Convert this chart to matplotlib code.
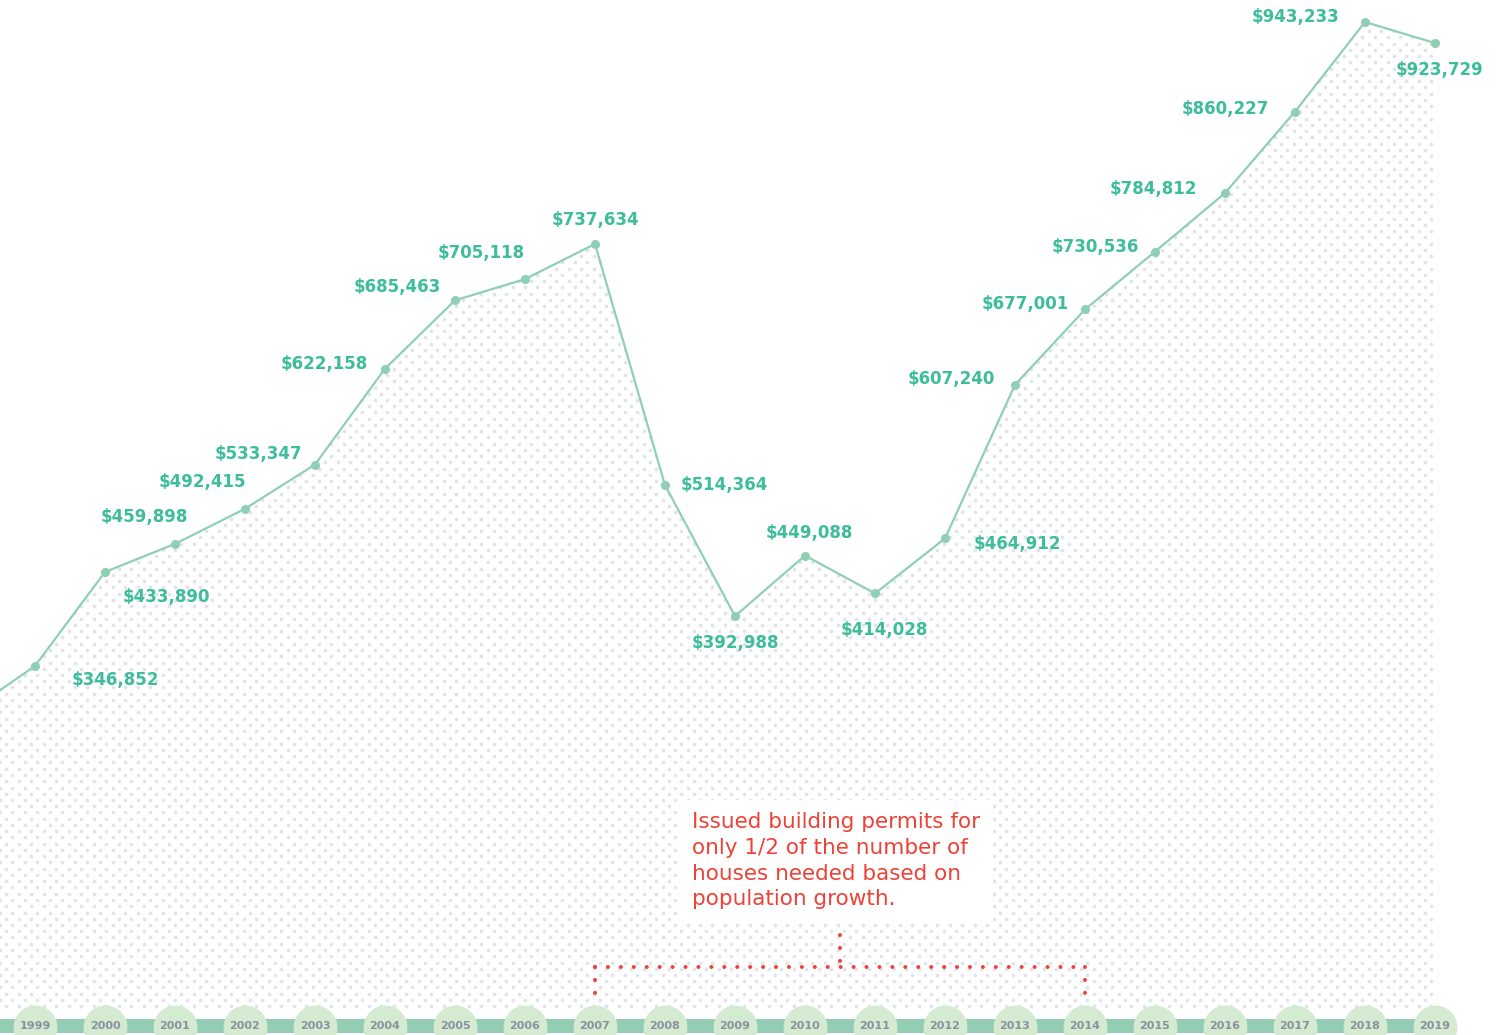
import numpy as np
import matplotlib.pyplot as plt

# median house price by year (1998 is only the start of the line, off the left edge)
years = [1998, 1999, 2000, 2001, 2002, 2003, 2004, 2005, 2006, 2007, 2008,
         2009, 2010, 2011, 2012, 2013, 2014, 2015, 2016, 2017, 2018, 2019]
prices = [302000, 346852, 433890, 459898, 492415, 533347, 622158, 685463,
          705118, 737634, 514364, 392988, 449088, 414028, 464912, 607240,
          677001, 730536, 784812, 860227, 943233, 923729]
tick_years = years[1:]
note = "Issued building permits for\nonly 1/2 of the number of\nhouses needed based on\npopulation growth."
permit_start, permit_end = 2007, 2014

# label offsets in pixels (dx right, dy down) for 1999..2019
label_offsets = [(80, 14), (61, 25), (-31, -27), (-43, -27), (-57, -11),
                 (-61, -5), (-58, -13), (-44, -26), (0, -24), (59, 0),
                 (0, 27), (4, -23), (9, 37), (72, 6), (-64, -6), (-60, -5),
                 (-60, -5), (-72, -4), (-70, -3), (-69, -5), (5, 27)]

W, H = 1498, 1035
LINE = '#8fcfb5'
TEAL = '#3dbd9c'
RED = '#ee4137'

# pixel <-> data helpers (x: 70 px per year, year 1999 at px 35)
PX_PER_YEAR = 70.0
X0 = 1999 - 35 / PX_PER_YEAR
VAL_PER_PX = 205599 / 222.0
Y0 = 737634 + 244 * VAL_PER_PX


def px(x):
    return X0 + np.asarray(x) / PX_PER_YEAR


def py(y):
    return Y0 - np.asarray(y) * VAL_PER_PX


fig = plt.figure(figsize=(W / 100, H / 100), dpi=100)
ax = fig.add_axes([0, 0, 1, 1])
ax.set_xlim(px(0), px(W))
ax.set_ylim(py(H), py(0))
ax.axis('off')

# dotted texture under the line
gx, gy = np.meshgrid(np.arange(0, W, 12.5), np.arange(0, H, 6.25))
gx = gx + (np.arange(gx.shape[0])[:, None] % 2) * 6.25
dx, dy = px(gx.ravel()), py(gy.ravel())
keep = (dx <= years[-1]) & (dy < np.interp(dx, years, prices)) & (dy > py(1012))
ax.scatter(dx[keep], dy[keep], s=7, color='#e0e3ea', lw=0, zorder=1)

# price line
ax.plot(years, prices, color=LINE, lw=1.6, zorder=3)
ax.plot(tick_years, prices[1:], 'o', color=LINE, ms=5.5, zorder=4)

for yr, val, (ox, oy) in zip(tick_years, prices[1:], label_offsets):
    ax.annotate(f"${val:,}", (yr, val), xytext=(ox * 0.72, -oy * 0.72),
                textcoords='offset points', ha='center', va='center',
                fontsize=12, fontweight='bold', color=TEAL, zorder=5)

# timeline band with year bubbles
ax.fill_between([px(0), tick_years[-1]], py(1033), py(1019), color='#93cdb4',
                lw=0, zorder=5)
ax.scatter(tick_years, [py(1027)] * len(tick_years), s=1000, color='#d4ebd1',
           lw=0, zorder=6)
for yr in tick_years:
    ax.text(yr, py(1026), str(yr), ha='center', va='center', fontsize=8,
            fontweight='bold', color='#8a909e', zorder=7)

# permit bracket
dot = dict(color=RED, lw=2.9, linestyle=(0, (0.01, 3.2)), dash_capstyle='round',
           zorder=6)
ax.plot([permit_start, permit_end], [py(967), py(967)], **dot)
ax.plot([permit_start, permit_start], [py(967), py(997)], **dot)
ax.plot([permit_end, permit_end], [py(967), py(997)], **dot)
mid = (permit_start + permit_end) / 2
ax.plot([mid, mid], [py(935), py(967)], **dot)

ax.text(px(692), py(812), note, ha='left', va='top', fontsize=15.5,
        color=RED, linespacing=1.36, zorder=8,
        bbox=dict(facecolor='white', edgecolor='none', pad=9))

fig.savefig('out.png', dpi=100)
